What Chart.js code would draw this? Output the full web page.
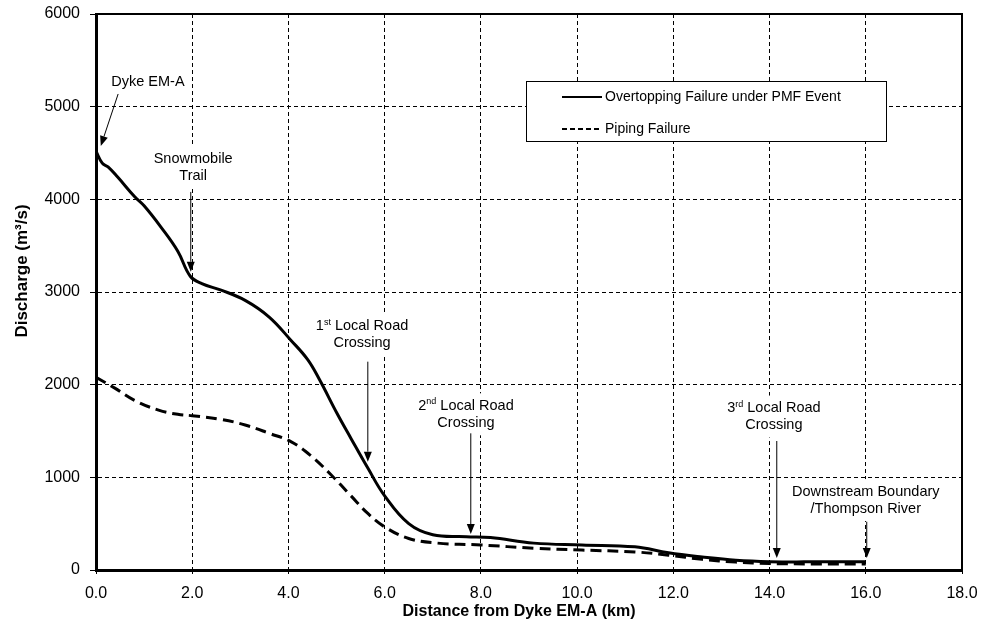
<!DOCTYPE html>
<html>
<head>
<meta charset="utf-8">
<script src="https://cdn.jsdelivr.net/npm/chart.js@4.4.1/dist/chart.umd.min.js"></script>
<style>
  html, body { margin: 0; padding: 0; background: #fff; }
  #wrap { width: 999px; height: 635px; }
</style>
</head>
<body>
<div id="wrap"><canvas id="myChart" width="999" height="635"></canvas></div>
<script>
// distance downstream (km) and peak discharge (m3/s)
var overtopKm = [0, 0.13, 0.25, 0.45, 0.8, 1.0, 1.35, 1.7, 1.96, 2.2, 2.6, 3.1, 3.6, 4.05, 4.4, 4.65, 5.0, 5.3, 5.65, 6.0, 6.5, 7.0, 7.7, 8.2, 9.1, 10.1, 11.2, 11.9, 12.6, 13.3, 14.0, 15.0, 16.0];
var overtopQ = [4520, 4390, 4350, 4240, 4030, 3930, 3700, 3440, 3170, 3090, 3020, 2910, 2730, 2480, 2270, 2050, 1700, 1420, 1100, 800, 500, 380, 360, 350, 290, 270, 250, 185, 140, 105, 90, 88, 90];

var pipeKm = [0, 0.4, 0.8, 1.3, 1.7, 2.0, 2.6, 3.1, 3.6, 4.05, 4.45, 4.9, 5.3, 5.65, 6.0, 6.5, 7.1, 8.0, 9.1, 10.1, 11.2, 11.9, 12.6, 13.3, 14.0, 15.0, 16.0];
var pipeQ = [2080, 1960, 1830, 1725, 1680, 1665, 1625, 1565, 1475, 1385, 1240, 1020, 800, 610, 465, 340, 290, 270, 235, 215, 195, 160, 115, 85, 70, 65, 65];

var seriesNames = ["Overtopping Failure under PMF Event", "Piping Failure"];
var xTicks = [0, 2, 4, 6, 8, 10, 12, 14, 16, 18];
var yTicks = [0, 1000, 2000, 3000, 4000, 5000, 6000];
var xTitle = "Distance from Dyke EM-A (km)";
var yTitle = "Discharge (m³/s)";

// site labels: text lines ("^" toggles superscript), text centre and arrow in km / m3/s
var notes = [
  { lines: ["Dyke EM-A"], at: [1.08, 5270], from: [0.46, 5137], to: [0.10, 4575] },
  { lines: ["Snowmobile", "Trail"], at: [2.02, 4345], from: [1.97, 4080], to: [1.97, 3219] },
  { lines: ["1^st^ Local Road", "Crossing"], at: [5.53, 2540], from: [5.65, 2248], to: [5.65, 1169] },
  { lines: ["2^nd^ Local Road", "Crossing"], at: [7.69, 1680], from: [7.79, 1475], to: [7.79, 388] },
  { lines: ["3^rd^ Local Road", "Crossing"], at: [14.09, 1656], from: [14.15, 1392], to: [14.15, 129] },
  { lines: ["Downstream Boundary", "/Thompson River"], at: [16.0, 755], from: [16.02, 521], to: [16.02, 129] }
];

var FONT = "'Liberation Sans', Arial, sans-serif";

function toPoints(xs, ys) {
  return xs.map(function (x, i) { return { x: x, y: ys[i] }; });
}

function richWidth(ctx, s) {
  var parts = s.split("^"), w = 0;
  parts.forEach(function (p, i) {
    ctx.font = (i % 2 ? "9px " : "14.5px ") + FONT;
    w += ctx.measureText(p).width;
  });
  return w;
}

function drawRich(ctx, s, cx, cy) {
  var parts = s.split("^");
  var x = cx - richWidth(ctx, s) / 2;
  ctx.textBaseline = "middle";
  ctx.textAlign = "left";
  parts.forEach(function (p, i) {
    var sup = i % 2 === 1;
    ctx.font = (sup ? "9px " : "14.5px ") + FONT;
    ctx.fillText(p, x, sup ? cy - 4 : cy);
    x += ctx.measureText(p).width;
  });
}

function arrow(ctx, x1, y1, x2, y2) {
  var a = Math.atan2(y2 - y1, x2 - x1), len = 10, half = 4;
  ctx.beginPath();
  ctx.moveTo(x1, y1);
  ctx.lineTo(x2 - Math.cos(a) * len, y2 - Math.sin(a) * len);
  ctx.stroke();
  ctx.beginPath();
  ctx.moveTo(x2, y2);
  ctx.lineTo(x2 - Math.cos(a) * len - Math.sin(a) * half, y2 - Math.sin(a) * len + Math.cos(a) * half);
  ctx.lineTo(x2 - Math.cos(a) * len + Math.sin(a) * half, y2 - Math.sin(a) * len - Math.cos(a) * half);
  ctx.closePath();
  ctx.fill();
}

var sitePlugin = {
  id: "sites",
  beforeDatasetsDraw: function (chart) {
    var ctx = chart.ctx, sx = chart.scales.x, sy = chart.scales.y;
    ctx.save();
    notes.forEach(function (n) {
      var cx = sx.getPixelForValue(n.at[0]), cy = sy.getPixelForValue(n.at[1]);
      var lh = 17, h = n.lines.length * lh;
      var w = Math.max.apply(null, n.lines.map(function (l) { return richWidth(ctx, l); }));
      ctx.fillStyle = "#fff";
      ctx.fillRect(cx - w / 2 - 6, cy - h / 2 - 4, w + 12, h + 8);
      ctx.fillStyle = "#000";
      n.lines.forEach(function (l, i) {
        drawRich(ctx, l, cx, cy - h / 2 + lh / 2 + i * lh);
      });
      ctx.strokeStyle = "#000";
      ctx.lineWidth = 1;
      arrow(ctx, sx.getPixelForValue(n.from[0]), sy.getPixelForValue(n.from[1]),
                 sx.getPixelForValue(n.to[0]), sy.getPixelForValue(n.to[1]));
    });
    ctx.restore();
  },
  afterDraw: function (chart) {
    var ctx = chart.ctx, a = chart.chartArea;
    ctx.save();
    // plot frame
    ctx.strokeStyle = "#000";
    ctx.lineWidth = 2;
    ctx.strokeRect(a.left, a.top, a.right - a.left, a.bottom - a.top);

    // axis titles
    ctx.fillStyle = "#000";
    ctx.textAlign = "center";
    ctx.textBaseline = "middle";
    ctx.font = "bold 16px " + FONT;
    ctx.fillText(xTitle, a.left + 423, a.bottom + 42);
    ctx.save();
    ctx.translate(22, a.top + 257);
    ctx.rotate(-Math.PI / 2);
    ctx.font = "bold 17px " + FONT;
    ctx.fillText(yTitle, 0, 0);
    ctx.restore();

    // legend box
    var lx = a.left + 430, ly = a.top + 67, lw = 360, lh = 60;
    ctx.fillStyle = "#fff";
    ctx.fillRect(lx, ly, lw, lh);
    ctx.lineWidth = 1;
    ctx.strokeRect(lx + 0.5, ly + 0.5, lw, lh);
    chart.data.datasets.forEach(function (ds, i) {
      var y = ly + 16 + i * 32;
      ctx.beginPath();
      ctx.setLineDash(ds.borderDash ? [5, 3] : []);
      ctx.lineWidth = 2;
      ctx.moveTo(lx + 36, y);
      ctx.lineTo(lx + 76, y);
      ctx.stroke();
      ctx.setLineDash([]);
      ctx.fillStyle = "#000";
      ctx.font = "14px " + FONT;
      ctx.textAlign = "left";
      ctx.textBaseline = "middle";
      ctx.fillText(ds.label, lx + 79, y);
    });
    ctx.restore();
  }
};

var ctx = document.getElementById("myChart").getContext("2d");

var myChart = new Chart(ctx, {
  type: "line",
  data: {
    datasets: [
      {
        label: seriesNames[0],
        data: toPoints(overtopKm, overtopQ),
        borderColor: "#000",
        borderWidth: 3,
        pointRadius: 0,
        tension: 0.4,
        fill: false
      },
      {
        label: seriesNames[1],
        data: toPoints(pipeKm, pipeQ),
        borderColor: "#000",
        borderWidth: 3,
        borderDash: [11, 6],
        pointRadius: 0,
        tension: 0.4,
        fill: false
      }
    ]
  },
  options: {
    responsive: false,
    animation: false,
    layout: { padding: { top: 14, right: 37, left: 0, bottom: 0 } },
    plugins: {
      legend: { display: false },
      tooltip: { enabled: false }
    },
    scales: {
      x: {
        type: "linear",
        min: xTicks[0],
        max: xTicks[xTicks.length - 1],
        afterBuildTicks: function (s) { s.ticks = xTicks.map(function (v) { return { value: v }; }); },
        afterFit: function (s) { s.height = 65; s.paddingLeft = 0; s.paddingRight = 0; },
        ticks: {
          color: "#000",
          font: { family: FONT, size: 16 },
          padding: 10,
          maxRotation: 0,
          callback: function (v) { return Number(v).toFixed(1); }
        },
        grid: { color: "#000", lineWidth: 1, tickLength: 4 },
        border: { color: "#000", width: 3, dash: [4, 3] }
      },
      y: {
        min: yTicks[0],
        max: yTicks[yTicks.length - 1],
        afterBuildTicks: function (s) { s.ticks = yTicks.map(function (v) { return { value: v }; }); },
        afterFit: function (s) { s.width = 96; s.paddingTop = 0; s.paddingBottom = 0; },
        ticks: {
          color: "#000",
          font: { family: FONT, size: 16 },
          padding: 10,
          callback: function (v) { return String(v); }
        },
        grid: { color: "#000", lineWidth: 1, tickLength: 6 },
        border: { color: "#000", width: 3, dash: [4, 3] }
      }
    }
  },
  plugins: [sitePlugin]
});
</script>
</body>
</html>
